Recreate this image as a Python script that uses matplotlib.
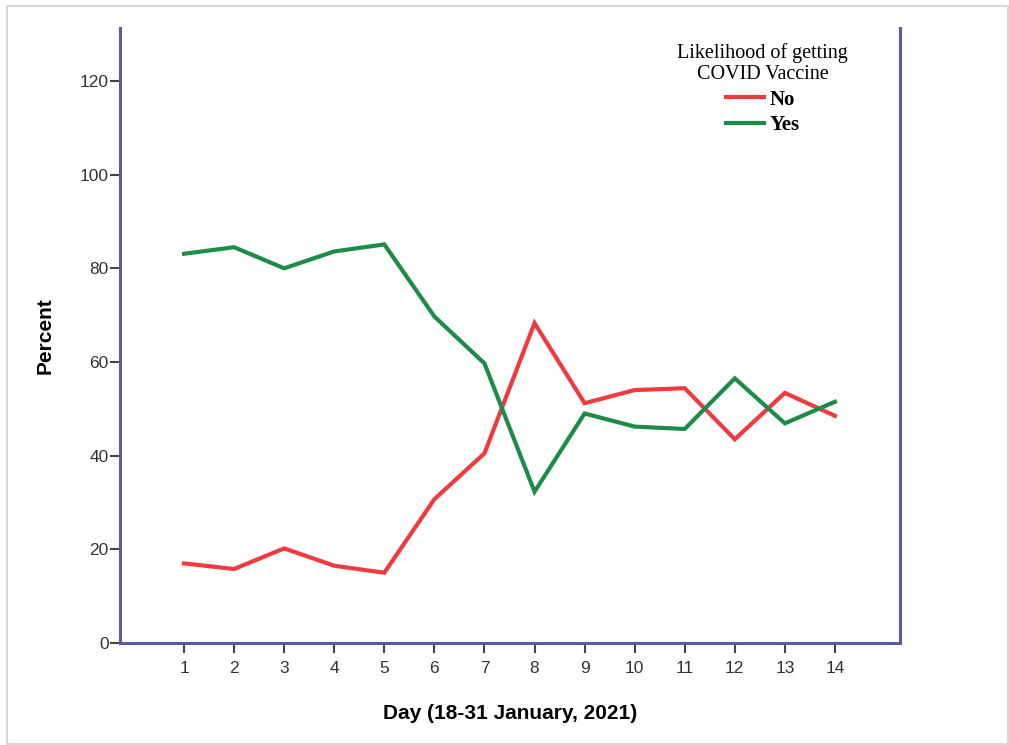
import matplotlib.pyplot as plt
from matplotlib.patches import Rectangle

days = list(range(1, 15))
no_pct = [17.0, 15.8, 20.2, 16.5, 15.0, 30.7, 40.5, 68.3, 51.2, 54.0, 54.4, 43.5, 53.4, 48.5]
yes_pct = [83.1, 84.5, 80.0, 83.6, 85.1, 69.7, 59.7, 32.3, 49.0, 46.2, 45.7, 56.5, 46.9, 51.5]
yticks = [0, 20, 40, 60, 80, 100, 120]

spine_color = "#5b5ba3"
red = "#f03a3e"
green = "#1d8c48"

plt.rcParams['font.family'] = ['Liberation Sans', 'DejaVu Sans']

fig = plt.figure(figsize=(10.09, 7.45), dpi=100)
# light frame around the whole picture
fig.patches.append(Rectangle((0.007, 0.002), 0.992, 0.99, transform=fig.transFigure,
                             fill=False, edgecolor="#d8d8d8", linewidth=1.5))

ax = fig.add_axes([0.1189, 0.1369, 0.7731, 0.8255])
ax.plot(days, no_pct, color=red, lw=3, label="No", solid_joinstyle="miter")
ax.plot(days, yes_pct, color=green, lw=3, label="Yes", solid_joinstyle="miter")

ax.set_xlim(-0.28, 15.3)
ax.set_ylim(0, 131.3)
ax.set_xticks(days)
ax.set_yticks(yticks)

for side in ["left", "right", "bottom"]:
    ax.spines[side].set_color(spine_color)
    ax.spines[side].set_linewidth(2.2)
ax.spines["top"].set_visible(False)

ax.tick_params(axis="both", direction="out", length=7, width=1.5, color="#444444",
               labelsize=12.5, labelcolor="#333333")
ax.tick_params(axis="x", pad=6)
ax.tick_params(axis="y", pad=1)

ax.set_ylabel("Percent", fontsize=15, fontweight="bold", labelpad=18)
ax.set_xlabel("Day (18-31 January, 2021)", fontsize=15, fontweight="bold", labelpad=20)

leg = ax.legend(loc="upper center", bbox_to_anchor=(0.824, 0.975), frameon=False,
                title="Likelihood of getting\nCOVID Vaccine",
                prop={"family": "Liberation Serif", "weight": "bold", "size": 15},
                title_fontproperties={"family": "Liberation Serif", "size": 14.5},
                handlelength=1.85, handletextpad=0.25, labelspacing=0.25,
                borderaxespad=0, borderpad=0)
leg.get_title().set_multialignment("center")
leg.get_title().set_linespacing(1.15)
for line in leg.get_lines():
    line.set_linewidth(3)

fig.savefig("out.png", dpi=100)
